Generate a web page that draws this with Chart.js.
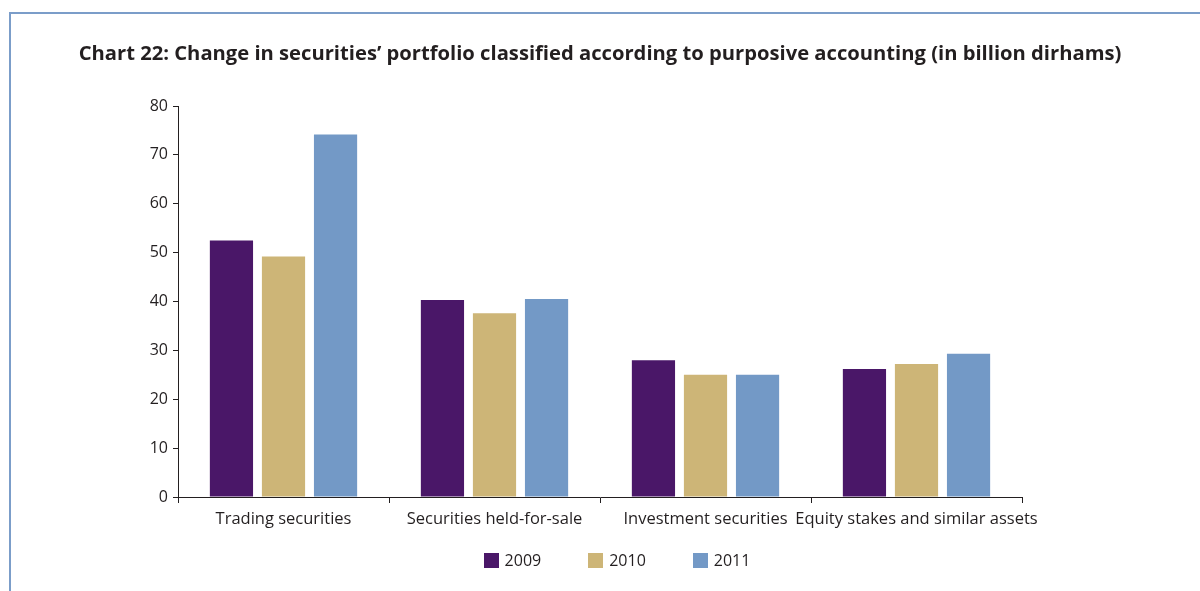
<!DOCTYPE html>
<html>
<head>
<meta charset="utf-8">
<script src="https://cdn.jsdelivr.net/npm/chart.js@4.4.1/dist/chart.umd.min.js"></script>
<style>
  html, body { margin: 0; padding: 0; background: #ffffff; }
  #wrap { position: relative; width: 1200px; height: 591px; overflow: hidden; }
  #frame { position: absolute; left: 9px; top: 12px; width: 1200px; height: 600px;
           border-top: 2px solid #7b9dc9; border-left: 2px solid #7b9dc9; box-sizing: border-box; }
  #c { position: absolute; left: 0; top: 0; }
</style>
</head>
<body>
<div id="wrap">
  <div id="frame"></div>
  <canvas id="c" width="1200" height="591"></canvas>
</div>
<script>
const titleText = "Chart 22: Change in securities\u2019 portfolio classified according to purposive accounting (in billion dirhams)";
const categories = ["Trading securities", "Securities held-for-sale", "Investment securities", "Equity stakes and similar assets"];
const seriesNames = ["2009", "2010", "2011"];
const values2009 = [52.5, 40.3, 28.0, 26.2];
const values2010 = [49.2, 37.6, 25.0, 27.2];
const values2011 = [74.2, 40.5, 25.0, 29.3];
const yTicks = [0, 10, 20, 30, 40, 50, 60, 70, 80];
const colors = ["#4a1768", "#cdb577", "#7399c6"];

const FONT = "'Open Sans', 'Noto Sans', 'DejaVu Sans', sans-serif";
const TEXT = "#231f20";

const seriesValues = [values2009, values2010, values2011];
const datasets = seriesNames.map((name, i) => ({
  label: name,
  data: seriesValues[i],
  backgroundColor: colors[i],
  borderWidth: 0,
  barPercentage: 0.83,
  categoryPercentage: 0.74
}));

// Legend drawn on the canvas from the chart's own datasets
const bottomLegend = {
  id: "bottomLegend",
  afterDraw(chart) {
    const ctx = chart.ctx;
    const ds = chart.data.datasets;
    const box = 15, gapText = 6, itemGap = 47, cy = 560;
    ctx.save();
    ctx.font = "16px " + FONT;
    ctx.textBaseline = "middle";
    ctx.textAlign = "left";
    const widths = ds.map(d => box + gapText + ctx.measureText(d.label).width);
    const total = widths.reduce((a, b) => a + b, 0) + itemGap * (ds.length - 1);
    let x = (chart.chartArea.left + chart.chartArea.right) / 2 + 17 - total / 2;
    ds.forEach((d, i) => {
      ctx.fillStyle = d.backgroundColor;
      ctx.fillRect(Math.round(x), cy - 7, box, box);
      ctx.fillStyle = TEXT;
      ctx.fillText(d.label, x + box + gapText, cy + 1);
      x += widths[i] + itemGap;
    });
    ctx.restore();
  }
};

new Chart(document.getElementById("c"), {
  type: "bar",
  data: { labels: categories, datasets },
  plugins: [bottomLegend],
  options: {
    responsive: false,
    animation: false,
    devicePixelRatio: 1,
    layout: { padding: { left: 0, right: 0, top: 0, bottom: 54 } },
    plugins: {
      title: {
        display: true,
        text: titleText,
        color: TEXT,
        font: { family: FONT, size: 20.2, weight: "bold", lineHeight: 1.2 },
        padding: { top: 42, bottom: 39.8 }
      },
      legend: { display: false },
      tooltip: { enabled: false }
    },
    scales: {
      x: {
        afterFit: (s) => { s.height = 40; },
        grid: { display: true, drawOnChartArea: false, offset: true, tickLength: 6, color: TEXT },
        border: { display: true, color: TEXT, width: 1 },
        ticks: { color: TEXT, font: { family: FONT, size: 16.5 }, padding: 6, maxRotation: 0, autoSkip: false }
      },
      y: {
        min: 0, max: 80,
        afterFit: (s) => { s.width = 178; },
        afterBuildTicks: (s) => { s.ticks = yTicks.map(v => ({ value: v })); },
        grid: { display: true, drawOnChartArea: false, tickLength: 5, color: TEXT },
        border: { display: true, color: TEXT, width: 1 },
        ticks: { color: TEXT, font: { family: FONT, size: 16 }, padding: 5 }
      },
      yRight: {
        position: "right",
        display: true,
        min: 0, max: 80,
        afterFit: (s) => { s.width = 178; },
        grid: { display: false },
        border: { display: false },
        ticks: { display: false }
      }
    }
  }
});
</script>
</body>
</html>
